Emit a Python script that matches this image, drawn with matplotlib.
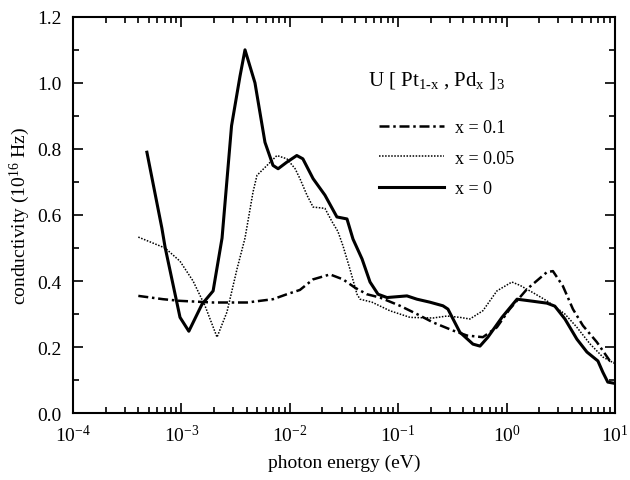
import matplotlib
matplotlib.use("Agg")
import matplotlib.pyplot as plt
from matplotlib.ticker import LogLocator, MultipleLocator, NullFormatter

plt.rcParams['font.family'] = ['Liberation Serif', 'DejaVu Serif']
plt.rcParams['mathtext.fontset'] = 'custom'
plt.rcParams['mathtext.rm'] = 'Liberation Serif'
plt.rcParams['mathtext.it'] = 'Liberation Serif'

# x = 0 (solid)
e_0 = [4.8e-4, 6.6e-4, 7.06e-4, 9.7e-4, 1.17e-3, 1.55e-3, 1.96e-3, 2.37e-3, 2.9e-3,
       3.47e-3, 3.86e-3, 4.77e-3, 5.9e-3, 7.0e-3, 7.8e-3, 9.4e-3, 1.16e-2, 1.32e-2,
       1.64e-2, 0.0211, 0.0272, 0.0337, 0.0383, 0.0464, 0.055, 0.0652, 0.0789,
       0.1205, 0.149, 0.196, 0.259, 0.288, 0.371, 0.49, 0.569, 0.673, 0.908, 1.25,
       1.64, 2.36, 2.79, 3.46, 4.46, 5.52, 6.97, 7.74, 8.6, 10.0]
s_0 = [0.79, 0.56, 0.503, 0.29, 0.248, 0.33, 0.37, 0.53, 0.87,
       1.02, 1.10, 1.0, 0.82, 0.75, 0.74, 0.76, 0.78, 0.77,
       0.71, 0.66, 0.594, 0.588, 0.527, 0.467, 0.397, 0.36, 0.35,
       0.355, 0.345, 0.336, 0.325, 0.315, 0.245, 0.209, 0.203, 0.23, 0.29, 0.345,
       0.34, 0.333, 0.324, 0.285, 0.224, 0.185, 0.158, 0.124, 0.094, 0.09]

# x = 0.05 (dotted)
e_05 = [4.0e-4, 7.06e-4, 9.7e-4, 1.28e-3, 1.65e-3, 2.13e-3, 2.63e-3, 3.26e-3, 3.86e-3,
        4.58e-3, 4.98e-3, 6.16e-3, 7.6e-3, 9.4e-3, 0.0112, 0.0124, 0.0144, 0.0164,
        0.0211, 0.0245, 0.0278, 0.031, 0.0359, 0.0417, 0.0445, 0.0573, 0.0839, 0.1285,
        0.209, 0.282, 0.371, 0.459, 0.605, 0.815, 1.12, 1.33, 1.75, 2.36, 3.46, 4.46,
        5.88, 7.74, 10.0]
s_05 = [0.533, 0.50, 0.46, 0.40, 0.325, 0.23, 0.306, 0.437, 0.53,
        0.67, 0.72, 0.75, 0.78, 0.77, 0.74, 0.71, 0.66, 0.624,
        0.62, 0.58, 0.55, 0.506, 0.436, 0.36, 0.345, 0.336, 0.31, 0.29,
        0.288, 0.294, 0.29, 0.285, 0.31, 0.37, 0.397, 0.387, 0.365, 0.34, 0.30, 0.26,
        0.21, 0.17, 0.15]

# x = 0.1 (dash-dot)
e_1 = [4.0e-4, 6.76e-4, 9.7e-4, 1.96e-3, 4.03e-3, 7.0e-3, 9.4e-3, 0.0124, 0.0164,
       0.0235, 0.031, 0.0399, 0.0515, 0.0679, 0.104, 0.149, 0.209, 0.321, 0.432,
       0.605, 0.815, 1.07, 1.54, 2.36, 2.68, 3.31, 4.1, 5.07, 6.82, 9.0, 10.0]
s_1 = [0.355, 0.345, 0.34, 0.335, 0.335, 0.345, 0.36, 0.373, 0.405,
       0.42, 0.405, 0.38, 0.36, 0.35, 0.325, 0.30, 0.275, 0.25, 0.235,
       0.23, 0.26, 0.315, 0.375, 0.427, 0.43, 0.385, 0.315, 0.265, 0.215, 0.158, 0.155]

fig = plt.figure(figsize=(6.3, 4.81), dpi=100)
ax = fig.add_axes([0.116, 0.139, 0.86, 0.824])

ax.plot(e_1, s_1, color='black', lw=1.8, linestyle=(0, (4, 1.5, 1, 1.5)), label='x = 0.1')
ax.plot(e_05, s_05, color='black', lw=1.1, linestyle=(0, (1, 1)), label='x = 0.05')
ax.plot(e_0, s_0, color='black', lw=2.2, label='x = 0')

ax.set_xscale('log')
ax.set_xlim(1e-4, 10)
ax.set_ylim(0, 1.2)
ax.xaxis.set_major_locator(LogLocator(base=10, numticks=10))
ax.xaxis.set_minor_locator(LogLocator(base=10, subs=range(2, 10), numticks=10))
ax.xaxis.set_minor_formatter(NullFormatter())
ax.yaxis.set_major_locator(MultipleLocator(0.2))
ax.yaxis.set_minor_locator(MultipleLocator(0.1))
ax.yaxis.set_major_formatter(lambda v, p: f"{v:.1f}")
ax.tick_params(which='both', direction='in', top=True, right=True, labelsize=14, width=1.2)
ax.tick_params(which='major', length=7, pad=8)
ax.tick_params(which='minor', length=4)
for sp in ax.spines.values():
    sp.set_linewidth(1.5)

ax.set_xlabel('photon energy (eV)', fontsize=14, labelpad=6)
ax.set_ylabel('conductivity (10$^{16}$ Hz)', fontsize=14)

ax.text(0.544, 0.843, r'U [ Pt$_{1\text{-}x}$ , Pd$_x$ ]$_3$', transform=ax.transAxes,
        fontsize=15, va='center')
ax.legend(loc='upper left', bbox_to_anchor=(0.535, 0.783), frameon=False, fontsize=13,
          handlelength=3.6, handletextpad=0.6, labelspacing=0.75)

fig.savefig('out.png', dpi=100)
